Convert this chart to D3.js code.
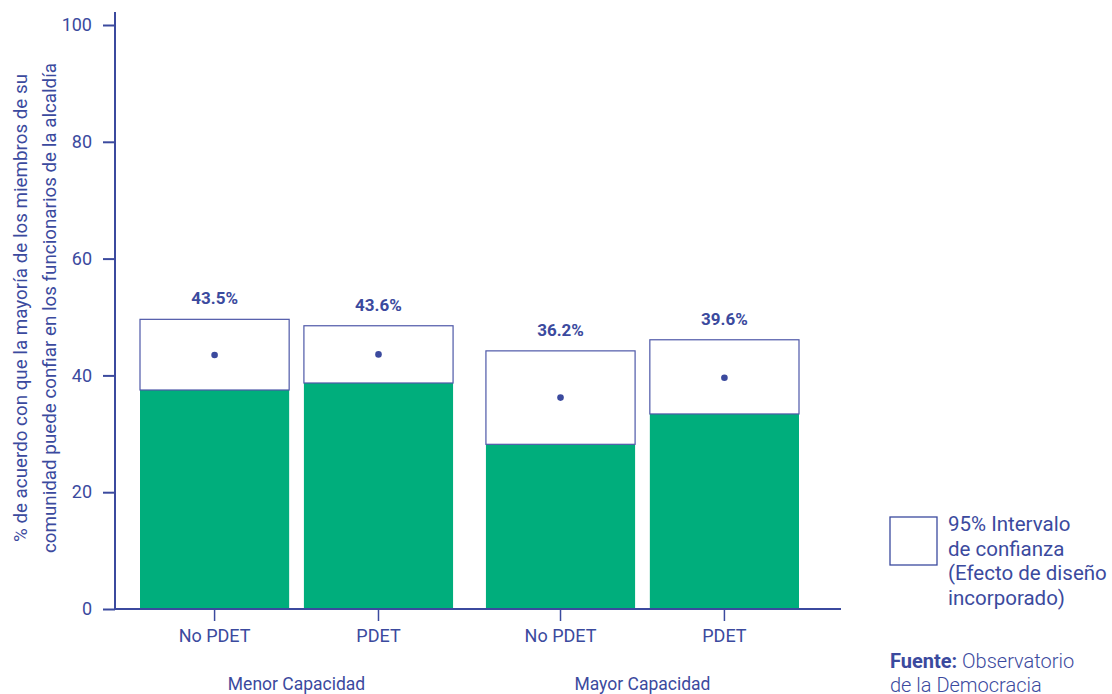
<!DOCTYPE html>
<html><head><meta charset="utf-8">
<script src="https://cdn.jsdelivr.net/npm/d3@7"></script>
<style>body{margin:0;background:#fff;} svg{display:block;font-family:Roboto,"Noto Sans",sans-serif;}</style>
</head><body>
<svg id="c" width="1112" height="694"></svg>
<script>
const groups = ["Menor Capacidad", "Mayor Capacidad"];
const subgroups = ["No PDET", "PDET"];
const estimates = [[43.5, 43.6], [36.2, 39.6]];
const lowerCI = [[37.5, 38.7], [28.2, 33.4]];
const upperCI = [[49.6, 48.5], [44.2, 46.1]];
const yTicks = [0, 20, 40, 60, 80, 100];
const yLabelLines = ["% de acuerdo con que la mayoría de los miembros de su", "comunidad puede confiar en los funcionarios de la alcaldía"];
const legendLines = ["95% Intervalo", "de confianza", "(Efecto de diseño", "incorporado)"];

const blue = "#3b4a9e", green = "#00ae7c";
const svg = d3.select("#c");
const y = d3.scaleLinear().domain([0, 100]).range([609, 25]);
const x0 = d3.scaleBand().domain(groups).range([140, 799]).paddingInner(0.095).paddingOuter(0);
const x1 = d3.scaleBand().domain(subgroups).range([0, x0.bandwidth()]).paddingInner(0.09).paddingOuter(0);

const data = [];
groups.forEach((g, i) => subgroups.forEach((s, j) => data.push({g, s, est: estimates[i][j], lo: lowerCI[i][j], hi: upperCI[i][j]})));

const bx = d => x0(d.g) + x1(d.s);
svg.selectAll("rect.bar").data(data).join("rect").attr("class", "bar")
  .attr("x", bx).attr("width", x1.bandwidth())
  .attr("y", d => y(d.lo)).attr("height", d => y(0) - y(d.lo)).attr("fill", green);
svg.selectAll("rect.ci").data(data).join("rect").attr("class", "ci")
  .attr("x", bx).attr("width", x1.bandwidth())
  .attr("y", d => y(d.hi)).attr("height", d => y(d.lo) - y(d.hi))
  .attr("fill", "#fff").attr("stroke", "#4e58a8").attr("stroke-width", 1.2);
svg.selectAll("circle.pt").data(data).join("circle")
  .attr("cx", d => bx(d) + x1.bandwidth() / 2).attr("cy", d => y(d.est)).attr("r", 3.3).attr("fill", blue);
svg.selectAll("text.val").data(data).join("text")
  .attr("x", d => bx(d) + x1.bandwidth() / 2).attr("y", d => y(d.hi) - 15)
  .attr("text-anchor", "middle").attr("fill", blue).attr("font-size", 17).attr("font-weight", "bold")
  .text(d => d.est.toFixed(1) + "%");

const yAxis = svg.append("g").attr("transform", "translate(115,0)")
  .call(d3.axisLeft(y).tickValues(yTicks).tickSize(12).tickPadding(11).tickSizeOuter(0));
yAxis.select(".domain").attr("stroke", blue).attr("stroke-width", 2).attr("d", "M0,12V609");
yAxis.selectAll(".tick line").attr("stroke", blue).attr("stroke-width", 2);
yAxis.selectAll(".tick text").attr("fill", blue).attr("font-size", 18).attr("font-family", "Roboto");

svg.append("line").attr("x1", 115).attr("x2", 841).attr("y1", y(0)).attr("y2", y(0)).attr("stroke", blue).attr("stroke-width", 2);
svg.selectAll("line.xt").data(data).join("line")
  .attr("x1", d => bx(d) + x1.bandwidth() / 2).attr("x2", d => bx(d) + x1.bandwidth() / 2)
  .attr("y1", y(0)).attr("y2", y(0) + 12).attr("stroke", blue).attr("stroke-width", 1.5);
svg.selectAll("text.xl").data(data).join("text")
  .attr("x", d => bx(d) + x1.bandwidth() / 2).attr("y", 642)
  .attr("text-anchor", "middle").attr("fill", blue).attr("font-size", 18).text(d => d.s);
svg.selectAll("text.gl").data(groups).join("text")
  .attr("x", d => x0(d) + x0.bandwidth() / 2).attr("y", 690)
  .attr("text-anchor", "middle").attr("fill", blue).attr("font-size", 17.5).text(d => d);

const yl = svg.append("text").attr("transform", "translate(0,308) rotate(-90)").attr("text-anchor", "middle")
  .attr("fill", blue).attr("font-size", 18.8);
yLabelLines.forEach((l, i) => yl.append("tspan").attr("x", 0).attr("y", 27 + i * 29).text(l));

svg.append("rect").attr("x", 890).attr("y", 517).attr("width", 47).attr("height", 48)
  .attr("fill", "#fff").attr("stroke", blue).attr("stroke-width", 1.3);
const lt = svg.append("text").attr("fill", blue).attr("font-size", 20.5);
legendLines.forEach((l, i) => lt.append("tspan").attr("x", 948).attr("y", 531 + i * 24.5).text(l));

const src = svg.append("text").attr("fill", blue).attr("font-size", 20);
src.append("tspan").attr("x", 890).attr("y", 668).attr("font-weight", "bold").text("Fuente:");
src.append("tspan").attr("font-weight", 300).text(" Observatorio");
svg.append("text").attr("fill", blue).attr("font-size", 20).attr("font-weight", 300).attr("x", 890).attr("y", 692).text("de la Democracia");
</script>
</body></html>
